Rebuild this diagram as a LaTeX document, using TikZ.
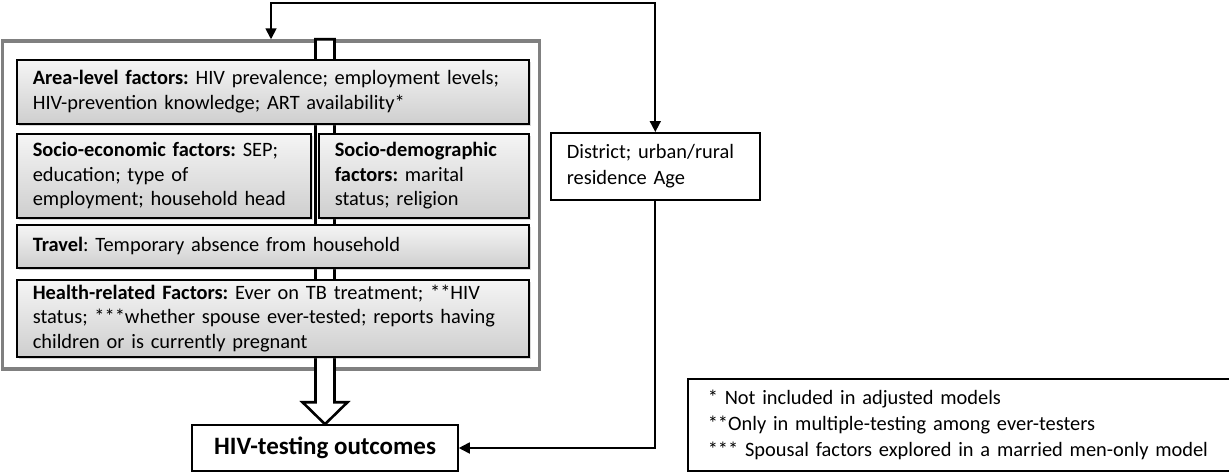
\documentclass[tikz,border=0pt]{standalone}
\usepackage{fontspec}
\setmainfont{Carlito}
\usepackage{tikz}
\usetikzlibrary{arrows.meta, calc, shadows}
\frenchspacing

\begin{document}
\begin{tikzpicture}[x=1pt, y=-1pt, line join=miter, >={Triangle[length=11pt, width=11pt]},
  factor/.style={draw=black, line width=1.6pt, top color=gray!8, bottom color=gray!38,
    drop shadow={shadow xshift=2pt, shadow yshift=-2pt, opacity=0.3},
    anchor=north west, align=left, inner xsep=16pt, inner ysep=0pt,
    font=\fontsize{20.4}{24.5}\selectfont},
  plainbox/.style={draw=black, line width=1.6pt, fill=white, inner ysep=0pt},
  conn/.style={line width=1.8pt},
  blockarrow/.style={draw=black, fill=white, line width=2.6pt}]

  \useasboundingbox (0,0) rectangle (1229,472);

  % Key points
  \coordinate (topline) at (0,3);

  % Outer frame round the factor boxes
  \node[draw=gray, line width=3.5pt, minimum width=537pt, minimum height=328pt, inner sep=0pt]
    (frame) at (271,205) {};

  % Outcome, covariates and notes
  \node[plainbox, minimum width=266pt, minimum height=46pt,
    font=\bfseries\fontsize{25}{30}\selectfont] (outcome) at (325,448) {HIV-testing outcomes};

  \node[plainbox, anchor=north west, align=left, text width=177pt, inner xsep=16pt,
    minimum height=67pt, font=\fontsize{20.4}{26}\selectfont] (district) at (550,132)
    {District; urban/rural\\ residence Age};

  \node[plainbox, anchor=north west, align=left, text width=515pt, inner xsep=20pt,
    minimum height=92pt, font=\fontsize{20.4}{26}\selectfont] (notes) at (687,378)
    {* Not included in adjusted models\\
     {}**Only in multiple-testing among ever-testers\\
     {}*** Spousal factors explored in a married men-only model};

  % Hollow arrow running behind the boxes
  \draw[blockarrow] ($(frame.north -| outcome.north)+(-9.5,0)$)
    -- ($(outcome.north)+(-9.5,-22)$) -- ++(-13,0) -- (outcome.north)
    -- ++(22.5,-22) -- ++(-13,0) -- ($(frame.north -| outcome.north)+(9.5,0)$) -- cycle;

  % Factor boxes
  \node[factor, text width=480pt, minimum height=64pt] (area) at (16,59)
    {\textbf{Area-level factors:} HIV prevalence; employment levels;\\
     HIV-prevention knowledge; ART availability*};
  \node[factor, text width=262pt, minimum height=84pt] (socioecon) at (16,133)
    {\textbf{Socio-economic factors:} SEP;\\ education; type of\\ employment; household head};
  \node[factor, text width=178pt, minimum height=84pt] (sociodemo) at (318,133)
    {\textbf{Socio-demographic}\\ \textbf{factors:} marital\\ status; religion};
  \node[factor, text width=480pt, minimum height=43pt] (travel) at (16,224)
    {\textbf{Travel}: Temporary absence from household};
  \node[factor, text width=480pt, minimum height=77pt] (health) at (16,279)
    {\textbf{Health-related Factors:} Ever on TB treatment; **HIV\\
     status; ***whether spouse ever-tested; reports having\\
     children or is currently pregnant};

  % Connectors
  \draw[conn, <->] (frame.north) -- (frame.north |- topline) -| (district.north);
  \draw[conn, ->] (district.south) |- (outcome.east);

\end{tikzpicture}
\end{document}
